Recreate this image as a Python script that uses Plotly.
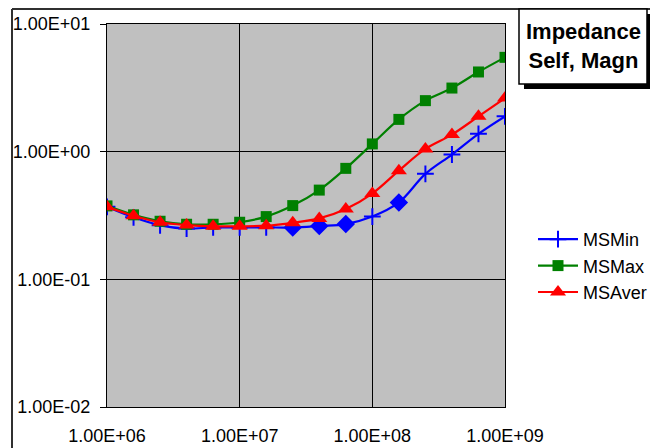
import plotly.graph_objects as go

# ---- data ----
freq = [1.0e6, 1.585e6, 2.512e6, 3.981e6, 6.31e6,
        1.0e7, 1.585e7, 2.512e7, 3.981e7, 6.31e7,
        1.0e8, 1.585e8, 2.512e8, 3.981e8, 6.31e8, 1.0e9]
ms_min = [0.37, 0.306, 0.265, 0.25, 0.255, 0.255, 0.255, 0.255, 0.262, 0.271,
          0.31, 0.40, 0.67, 0.95, 1.38, 1.89]
ms_max = [0.376, 0.32, 0.285, 0.27, 0.27, 0.28, 0.31, 0.378, 0.50, 0.74,
          1.15, 1.79, 2.51, 3.15, 4.21, 5.48]
ms_aver = [0.37, 0.315, 0.28, 0.266, 0.26, 0.26, 0.263, 0.277, 0.30, 0.356,
           0.47, 0.71, 1.05, 1.36, 1.89, 2.63]
series_names = ["MSMin", "MSMax", "MSAver"]
x_tickvals = [1e6, 1e7, 1e8, 1e9]
x_ticktext = ["1.00E+06", "1.00E+07", "1.00E+08", "1.00E+09"]
y_tickvals = [1e-2, 1e-1, 1e0, 1e1]
y_ticktext = ["1.00E-02", "1.00E-01", "1.00E+00", "1.00E+01"]
title_lines = ["Impedance", "Self, Magn"]

FONT = "Arial, Liberation Sans, sans-serif"
W, H = 650, 448
L, R, T, B = 107, 505, 24, 407  # plot area in pixels


def px(x):
    return (x - L) / (R - L)


def py(y):
    return (B - y) / (B - T)


# per-point marker symbols of the MSMin series (some points show diamonds)
min_symbols = ["cross-thin"] * len(freq)
for i in (7, 8, 9, 11):
    min_symbols[i] = "diamond"

fig = go.Figure()
fig.add_trace(go.Scatter(
    x=freq, y=ms_min, name=series_names[0], mode="lines+markers",
    line=dict(color="#0000FF", width=2.2, shape="spline"),
    marker=dict(symbol=min_symbols, size=12, color="#0000FF", opacity=1,
                line=dict(color="#0000FF", width=2)),
))
fig.add_trace(go.Scatter(
    x=freq, y=ms_max, name=series_names[1], mode="lines+markers",
    line=dict(color="#008000", width=2.2, shape="spline"),
    marker=dict(symbol="square", size=11, color="#008000", opacity=1,
                line=dict(color="#008000", width=0)),
))
fig.add_trace(go.Scatter(
    x=freq, y=ms_aver, name=series_names[2], mode="lines+markers",
    line=dict(color="#FF0000", width=2.2, shape="spline"),
    marker=dict(symbol="triangle-up", size=14, color="#FF0000", opacity=1,
                line=dict(color="#FF0000", width=0)),
))

shapes = [
    # outer chart border (left and top)
    dict(type="line", xref="paper", yref="paper", x0=px(12), x1=px(12),
         y0=py(9), y1=py(460), line=dict(color="#303030", width=2)),
    dict(type="line", xref="paper", yref="paper", x0=px(12), x1=px(660),
         y0=py(9), y1=py(9), line=dict(color="#303030", width=2)),
    # title box shadow and box
    dict(type="rect", xref="paper", yref="paper", x0=px(524), x1=px(653),
         y0=py(14), y1=py(89), fillcolor="black", line=dict(width=0)),
    dict(type="rect", xref="paper", yref="paper", x0=px(519), x1=px(647),
         y0=py(9), y1=py(84), fillcolor="white",
         line=dict(color="black", width=1.5)),
]

fig.update_layout(
    width=W, height=H,
    margin=dict(l=L, r=W - R, t=T, b=H - B, pad=0, autoexpand=False),
    paper_bgcolor="white", plot_bgcolor="#C0C0C0",
    font=dict(family=FONT, size=18, color="black"),
    shapes=shapes,
    annotations=[dict(
        xref="paper", yref="paper", x=px(583), y=py(46),
        xanchor="center", yanchor="middle", showarrow=False,
        text="<b>" + "<br>".join(title_lines) + "</b>",
        font=dict(family=FONT, size=22, color="black"),
    )],
    showlegend=True,
    legend=dict(
        x=px(533), y=py(221), xanchor="left", yanchor="top",
        bgcolor="rgba(0,0,0,0)", borderwidth=0,
        font=dict(family=FONT, size=18, color="black"),
        itemwidth=40, tracegroupgap=0,
    ),
)

fig.update_xaxes(
    type="log", range=[6, 9], automargin=False,
    tickvals=x_tickvals, ticktext=x_ticktext,
    showgrid=True, gridcolor="black", gridwidth=1,
    showline=True, linecolor="black", linewidth=1, mirror=True,
    ticks="", ticklabelstandoff=12, zeroline=False,
    tickfont=dict(family=FONT, size=18, color="black"),
)
fig.update_yaxes(
    type="log", range=[-2, 1], automargin=False,
    tickvals=y_tickvals, ticktext=y_ticktext,
    showgrid=True, gridcolor="black", gridwidth=1,
    showline=True, linecolor="black", linewidth=1, mirror=True,
    ticks="outside", ticklen=6, tickcolor="black", tickwidth=1,
    ticklabelstandoff=6, zeroline=False,
    tickfont=dict(family=FONT, size=18, color="black"),
)

fig.write_html("out.html",
               config={"displayModeBar": False},
               post_script="document.body.style.margin='0';"
                           "document.body.style.overflow='hidden';")
